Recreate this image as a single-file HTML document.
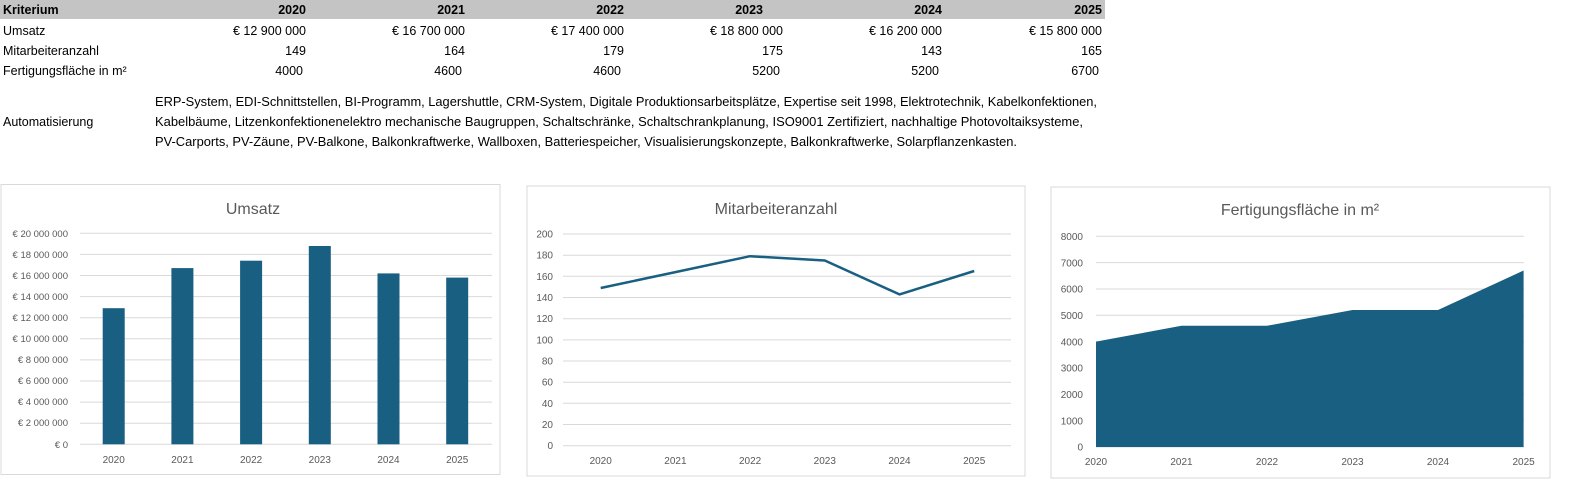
<!DOCTYPE html>
<html><head><meta charset="utf-8"><style>
html,body{margin:0;padding:0;background:#fff;}
svg{display:block;font-family:"Liberation Sans",sans-serif;}
</style></head><body>
<svg width="1569" height="481" viewBox="0 0 1569 481" xmlns="http://www.w3.org/2000/svg">
<rect x="0" y="0" width="1105" height="19" fill="#c4c4c4"/>
<g font-size="12.5" fill="#000">
<g font-weight="bold">
<text x="3" y="14">Kriterium</text>
<text x="306" y="14" text-anchor="end">2020</text>
<text x="465" y="14" text-anchor="end">2021</text>
<text x="624" y="14" text-anchor="end">2022</text>
<text x="763" y="14" text-anchor="end">2023</text>
<text x="942" y="14" text-anchor="end">2024</text>
<text x="1102" y="14" text-anchor="end">2025</text>
</g>
<text x="3" y="35">Umsatz</text>
<text x="306" y="35" text-anchor="end">€ 12 900 000</text>
<text x="465" y="35" text-anchor="end">€ 16 700 000</text>
<text x="624" y="35" text-anchor="end">€ 17 400 000</text>
<text x="783" y="35" text-anchor="end">€ 18 800 000</text>
<text x="942" y="35" text-anchor="end">€ 16 200 000</text>
<text x="1102" y="35" text-anchor="end">€ 15 800 000</text>
<text x="3" y="55">Mitarbeiteranzahl</text>
<text x="306" y="55" text-anchor="end">149</text>
<text x="465" y="55" text-anchor="end">164</text>
<text x="624" y="55" text-anchor="end">179</text>
<text x="783" y="55" text-anchor="end">175</text>
<text x="942" y="55" text-anchor="end">143</text>
<text x="1102" y="55" text-anchor="end">165</text>
<text x="3" y="75">Fertigungsfläche in m²</text>
<text x="303" y="75" text-anchor="end">4000</text>
<text x="462" y="75" text-anchor="end">4600</text>
<text x="621" y="75" text-anchor="end">4600</text>
<text x="780" y="75" text-anchor="end">5200</text>
<text x="939" y="75" text-anchor="end">5200</text>
<text x="1099" y="75" text-anchor="end">6700</text>
<text x="3" y="126">Automatisierung</text>
<text x="155" y="106" textLength="942" lengthAdjust="spacingAndGlyphs">ERP-System, EDI-Schnittstellen, BI-Programm, Lagershuttle, CRM-System, Digitale Produktionsarbeitsplätze, Expertise seit 1998, Elektrotechnik, Kabelkonfektionen,</text>
<text x="155" y="126" textLength="928" lengthAdjust="spacingAndGlyphs">Kabelbäume, Litzenkonfektionenelektro mechanische Baugruppen, Schaltschränke, Schaltschrankplanung, ISO9001 Zertifiziert, nachhaltige Photovoltaiksysteme,</text>
<text x="155" y="146" textLength="862" lengthAdjust="spacingAndGlyphs">PV-Carports, PV-Zäune, PV-Balkone, Balkonkraftwerke, Wallboxen, Batteriespeicher, Visualisierungskonzepte, Balkonkraftwerke, Solarpflanzenkasten.</text>
</g>

<!-- Chart 1 -->
<rect x="1" y="184.5" width="499" height="290" fill="#fff" stroke="#d9d9d9"/>
<text x="253" y="214" font-size="16" fill="#595959" text-anchor="middle">Umsatz</text>
<g stroke="#d9d9d9" stroke-width="1">
<line x1="80" x2="492" y1="233.3" y2="233.3"/><line x1="80" x2="492" y1="254.4" y2="254.4"/>
<line x1="80" x2="492" y1="275.5" y2="275.5"/><line x1="80" x2="492" y1="296.6" y2="296.6"/>
<line x1="80" x2="492" y1="317.7" y2="317.7"/><line x1="80" x2="492" y1="338.8" y2="338.8"/>
<line x1="80" x2="492" y1="359.9" y2="359.9"/><line x1="80" x2="492" y1="381" y2="381"/>
<line x1="80" x2="492" y1="402.1" y2="402.1"/><line x1="80" x2="492" y1="423.2" y2="423.2"/>
<line x1="80" x2="492" y1="444.3" y2="444.3"/>
</g>
<g font-size="9.5" fill="#595959" text-anchor="end">
<text x="68" y="237">€ 20 000 000</text><text x="68" y="258">€ 18 000 000</text>
<text x="68" y="279">€ 16 000 000</text><text x="68" y="300">€ 14 000 000</text>
<text x="68" y="321">€ 12 000 000</text><text x="68" y="342">€ 10 000 000</text>
<text x="68" y="363">€ 8 000 000</text><text x="68" y="384">€ 6 000 000</text>
<text x="68" y="405">€ 4 000 000</text><text x="68" y="426">€ 2 000 000</text>
<text x="68" y="448">€ 0</text>
</g>
<g fill="#195f82">
<rect x="102.7" y="308.2" width="22" height="136.1"/>
<rect x="171.4" y="268.1" width="22" height="176.2"/>
<rect x="240.1" y="260.7" width="22" height="183.6"/>
<rect x="308.8" y="246" width="22" height="198.3"/>
<rect x="377.5" y="273.4" width="22" height="170.9"/>
<rect x="446.2" y="277.6" width="22" height="166.7"/>
</g>
<g font-size="10" fill="#595959" text-anchor="middle">
<text x="113.7" y="463">2020</text><text x="182.4" y="463">2021</text><text x="251.1" y="463">2022</text>
<text x="319.8" y="463">2023</text><text x="388.5" y="463">2024</text><text x="457.2" y="463">2025</text>
</g>

<!-- Chart 2 -->
<rect x="527" y="186" width="498" height="290" fill="#fff" stroke="#d9d9d9"/>
<text x="776" y="214" font-size="16" fill="#595959" text-anchor="middle">Mitarbeiteranzahl</text>
<g stroke="#d9d9d9">
<line x1="563" x2="1011" y1="234" y2="234"/><line x1="563" x2="1011" y1="255.2" y2="255.2"/>
<line x1="563" x2="1011" y1="276.3" y2="276.3"/><line x1="563" x2="1011" y1="297.5" y2="297.5"/>
<line x1="563" x2="1011" y1="318.7" y2="318.7"/><line x1="563" x2="1011" y1="339.9" y2="339.9"/>
<line x1="563" x2="1011" y1="361" y2="361"/><line x1="563" x2="1011" y1="382.2" y2="382.2"/>
<line x1="563" x2="1011" y1="403.3" y2="403.3"/><line x1="563" x2="1011" y1="424.5" y2="424.5"/>
<line x1="563" x2="1011" y1="445.7" y2="445.7"/>
</g>
<g font-size="10" fill="#595959" text-anchor="end">
<text x="553" y="237.5">200</text><text x="553" y="258.7">180</text><text x="553" y="279.8">160</text>
<text x="553" y="301">140</text><text x="553" y="322.2">120</text><text x="553" y="343.4">100</text>
<text x="553" y="364.5">80</text><text x="553" y="385.7">60</text><text x="553" y="406.8">40</text>
<text x="553" y="428">20</text><text x="553" y="449.2">0</text>
</g>
<polyline points="600.7,288 675.4,272.1 750.1,256.2 824.8,260.5 899.5,294.4 974.2,271" fill="none" stroke="#195f82" stroke-width="2.5" stroke-linejoin="round"/>
<g font-size="10" fill="#595959" text-anchor="middle">
<text x="600.7" y="464">2020</text><text x="675.4" y="464">2021</text><text x="750.1" y="464">2022</text>
<text x="824.8" y="464">2023</text><text x="899.5" y="464">2024</text><text x="974.2" y="464">2025</text>
</g>

<!-- Chart 3 -->
<rect x="1051" y="187" width="499" height="291" fill="#fff" stroke="#d9d9d9"/>
<text x="1300" y="215" font-size="16" fill="#595959" text-anchor="middle">Fertigungsfläche in m²</text>
<g stroke="#d9d9d9">
<line x1="1096" x2="1524" y1="236.3" y2="236.3"/><line x1="1096" x2="1524" y1="262.6" y2="262.6"/>
<line x1="1096" x2="1524" y1="289" y2="289"/><line x1="1096" x2="1524" y1="315.3" y2="315.3"/>
<line x1="1096" x2="1524" y1="341.7" y2="341.7"/><line x1="1096" x2="1524" y1="368" y2="368"/>
<line x1="1096" x2="1524" y1="394.3" y2="394.3"/><line x1="1096" x2="1524" y1="420.7" y2="420.7"/>
<line x1="1096" x2="1524" y1="447" y2="447"/>
</g>
<g font-size="10" fill="#595959" text-anchor="end">
<text x="1083" y="240">8000</text><text x="1083" y="266.3">7000</text><text x="1083" y="292.7">6000</text>
<text x="1083" y="319">5000</text><text x="1083" y="345.4">4000</text><text x="1083" y="371.7">3000</text>
<text x="1083" y="398">2000</text><text x="1083" y="424.4">1000</text><text x="1083" y="450.7">0</text>
</g>
<polygon points="1096,447 1096,341.6 1181.5,325.8 1267,325.8 1352.5,310 1438,310 1523.6,270.5 1523.6,447" fill="#195f82"/>
<g font-size="10" fill="#595959" text-anchor="middle">
<text x="1096" y="465">2020</text><text x="1181.5" y="465">2021</text><text x="1267" y="465">2022</text>
<text x="1352.5" y="465">2023</text><text x="1438" y="465">2024</text><text x="1523.6" y="465">2025</text>
</g>
</svg>
</body></html>
